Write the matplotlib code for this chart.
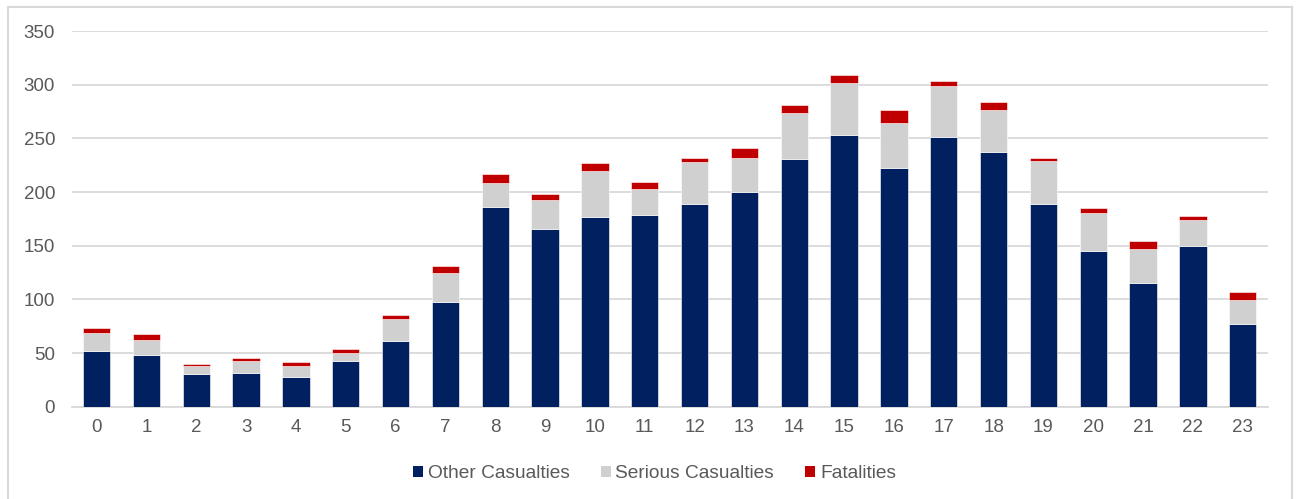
import matplotlib
matplotlib.use("Agg")
import matplotlib.pyplot as plt
from matplotlib.lines import Line2D
import numpy as np

plt.rcParams['font.family'] = ['Liberation Sans', 'DejaVu Sans']

hours = [str(h) for h in range(24)]
other = [52, 48, 30, 31, 28, 43, 61, 98, 186, 166, 177, 179, 189, 200, 231, 253,
         222, 251, 237, 189, 145, 115, 150, 77]
serious = [17, 14, 8, 12, 10, 7, 21, 27, 22, 27, 43, 24, 39, 32, 43, 49,
           42, 48, 39, 40, 35, 32, 24, 22]
fatal = [4, 6, 2, 2, 4, 4, 3, 6, 9, 5, 7, 6, 4, 9, 7, 7,
         12, 4, 8, 3, 5, 7, 4, 8]
series_names = ["Other Casualties", "Serious Casualties", "Fatalities"]
colors = ["#002060", "#d0d0d0", "#c00000"]

W, H = 1298, 499
fig = plt.figure(figsize=(W / 100, H / 100), dpi=100)
ax = fig.add_axes([71.7 / W, (H - 406.7) / H, (1267.7 - 71.7) / W, (406.7 - 31) / H])

x = np.arange(len(hours))
other_a = np.array(other)
serious_a = np.array(serious)
fatal_a = np.array(fatal)
bw = 0.55
b1 = ax.bar(x, other_a, bw, color=colors[0], edgecolor="white", linewidth=0.4,
            label=series_names[0], zorder=3)
b2 = ax.bar(x, serious_a, bw, bottom=other_a, color=colors[1], edgecolor="white",
            linewidth=0.4, label=series_names[1], zorder=3)
b3 = ax.bar(x, fatal_a, bw, bottom=other_a + serious_a, color=colors[2],
            edgecolor="white", linewidth=0.4, label=series_names[2], zorder=3)

ax.set_xlim(-0.5, 23.5)
ax.set_ylim(0, 350)
ax.set_yticks(np.arange(0, 351, 50))
ax.set_xticks(x)
ax.set_xticklabels(hours)
ax.grid(axis="y", color="#d9d9d9", linewidth=1.3, zorder=0)
for s in ["top", "right", "left"]:
    ax.spines[s].set_visible(False)
ax.spines["bottom"].set_color("#d9d9d9")
ax.spines["bottom"].set_linewidth(1.3)
ax.tick_params(axis="both", length=0, labelsize=13.5, colors="#595959")
ax.tick_params(axis="x", pad=9)
ax.tick_params(axis="y", pad=12)

leg = fig.legend(handles=[b1, b2, b3], labels=series_names, loc="center",
                 bbox_to_anchor=(654.5 / W, (H - 474) / H), ncol=3, frameon=False,
                 fontsize=13.8, handlelength=0.52, handleheight=0.52, handletextpad=0.25,
                 columnspacing=1.62, labelcolor="#595959")
for h in leg.legend_handles:
    h.set_edgecolor("none")

# chart area border (left, top, right edges)
bc = "#d9d9d9"
fig.add_artist(Line2D([7.5 / W, 7.5 / W], [0, (H - 7) / H], color=bc, lw=1.5,
                      transform=fig.transFigure))
fig.add_artist(Line2D([7.5 / W, 1291.5 / W], [(H - 7) / H, (H - 7) / H], color=bc,
                      lw=1.5, transform=fig.transFigure))
fig.add_artist(Line2D([1291.5 / W, 1291.5 / W], [0, (H - 7) / H], color=bc, lw=1.5,
                      transform=fig.transFigure))

fig.savefig("out.png", dpi=100)
